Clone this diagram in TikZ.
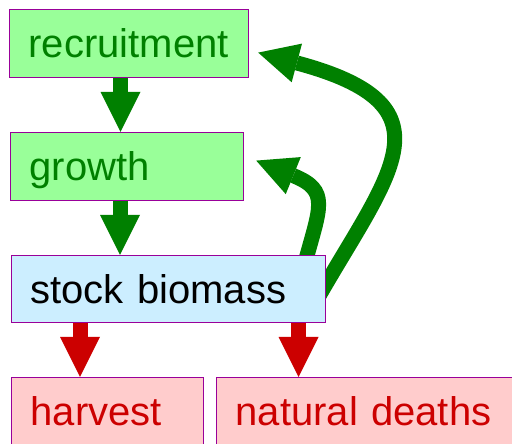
\documentclass[tikz,border=0pt]{standalone}
\usepackage{fontspec}
\setmainfont{Liberation Sans}
\usetikzlibrary{arrows.meta,backgrounds}

\definecolor{boxline}{HTML}{990099}
\definecolor{gainfill}{HTML}{99FF99}
\definecolor{gaintext}{HTML}{008000}
\definecolor{stockfill}{HTML}{CCEEFF}
\definecolor{lossfill}{HTML}{FFCCCC}
\definecolor{losstext}{HTML}{CC0000}

\tikzset{
  box/.style={draw=boxline, line width=1.2pt, anchor=north west, inner xsep=19pt, inner ysep=0pt,
    minimum height=68pt, align=left, text height=28pt, text depth=0pt, font=\fontsize{40}{48}\selectfont},
  gainbox/.style={box, fill=gainfill, text=gaintext},
  stockbox/.style={box, fill=stockfill, text=black},
  lossbox/.style={box, fill=lossfill, text=losstext},
  flow/.style={line width=15pt, -{Triangle[length=40pt,width=40pt,line width'=0pt]}},
}

\begin{document}
\begin{tikzpicture}[x=1pt,y=1pt]
    \useasboundingbox (0,0) rectangle (512,444);
    \clip (0,0) rectangle (512,444);
    \node[gainbox, text width=201pt] (rec) at (9,435) {recruitment};
    \node[gainbox, text width=195pt] (gro) at (10,312) {growth};
    \node[stockbox, text width=276pt, minimum height=67pt] (stk) at (11,189) {stock biomass};
    \node[lossbox, text width=154pt] (har) at (11,67) {harvest};
    \node[lossbox, text width=272pt] (nat) at (216,67) {natural deaths};
    \begin{scope}[on background layer]
    % gains
    \draw[flow, gaintext] ([xshift=111.5pt]rec.south west) -- ([xshift=110.5pt]gro.north west);
    \draw[flow, gaintext] ([xshift=110pt]gro.south west) -- ([xshift=109pt]stk.north west);
    \draw[flow, gaintext] ([shift={(294pt,-8pt)}]stk.north west) .. controls +(15,56) and +(74,-30) .. ([shift={(12pt,6pt)}]gro.east);
    \draw[flow, gaintext] ([shift={(-7pt,-6.5pt)}]stk.east) .. controls +(72,125) and +(196,-52.5) .. ([shift={(9pt,-9pt)}]rec.east);
    % losses
    \draw[flow, losstext] ([xshift=69pt]stk.south west) -- ([xshift=69pt]har.north west);
    \draw[flow, losstext] ([xshift=287.5pt]stk.south west) -- ([xshift=82.5pt]nat.north west);
    \end{scope}
\end{tikzpicture}
\end{document}
